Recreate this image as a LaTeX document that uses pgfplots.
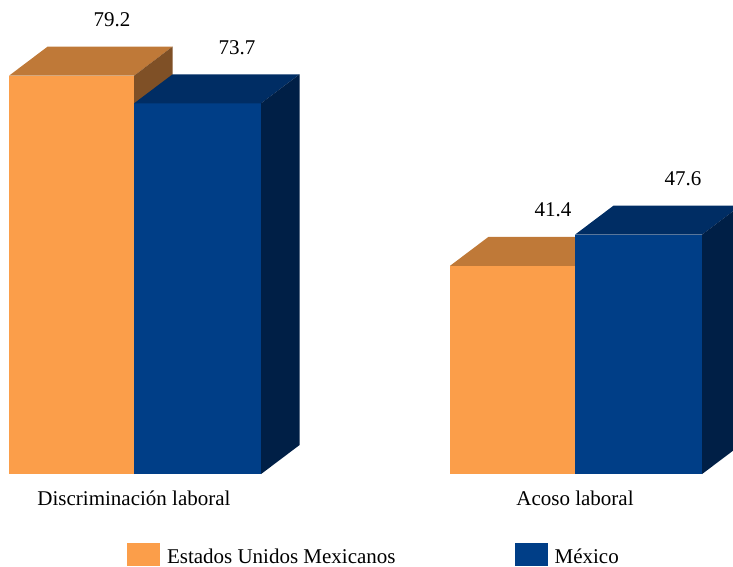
\documentclass[border=0pt]{standalone}
\usepackage{fontspec}
\setmainfont{Liberation Serif}
\usepackage{pgfplots}
\pgfplotsset{compat=1.18}

\definecolor{oFront}{RGB}{251,158,74}
\definecolor{oTop}{RGB}{191,121,56}
\definecolor{oSide}{RGB}{127,80,38}
\definecolor{bFront}{RGB}{0,62,135}
\definecolor{bTop}{RGB}{0,45,100}
\definecolor{bSide}{RGB}{0,31,70}

\newcommand{\lblfont}{\fontsize{21}{25}\selectfont}

\begin{document}
\begin{tikzpicture}
\begin{axis}[
    width=733pt, height=474pt, scale only axis,
    xmin=0, xmax=733, ymin=0, ymax=94.235,
    axis line style={draw=none},
    ytick=\empty,
    xtick={134,575},
    xticklabels={Discriminación laboral, Acoso laboral},
    major tick length=0pt,
    xticklabel style={font=\lblfont, anchor=base, yshift=-31pt, inner sep=0pt},
    legend columns=2,
    legend style={at={(axis description cs:0,0)}, anchor=north west,
        xshift=127pt, yshift=-69pt, draw=none, fill=none,
        inner sep=0pt, outer sep=0pt, font=\lblfont,
        cells={anchor=base west}, nodes={inner sep=0pt, text depth=0pt},
        column sep=0pt,
        /tikz/every odd column/.append style={column sep=7pt},
        /tikz/every even column/.append style={column sep=119pt}},
    legend image code/.code={\fill[#1] (0pt,-3pt) rectangle (33pt,20pt);},
]
% Discriminacion laboral: Estados Unidos Mexicanos 79.2
\addplot[fill=oFront, draw=none, forget plot] coordinates {(9,0) (134,0) (134,79.2) (9,79.2)} -- cycle;
\addplot[fill=oTop, draw=none, forget plot] coordinates {(9,79.2) (134,79.2) (172.5,84.97) (47.5,84.97)} -- cycle;
\addplot[fill=oSide, draw=none, forget plot] coordinates {(134,0) (172.5,5.77) (172.5,84.97) (134,79.2)} -- cycle;
% Discriminacion laboral: Mexico 73.7
\addplot[fill=bFront, draw=none, forget plot] coordinates {(134,0) (261,0) (261,73.7) (134,73.7)} -- cycle;
\addplot[fill=bTop, draw=none, forget plot] coordinates {(134,73.7) (261,73.7) (299.5,79.47) (172.5,79.47)} -- cycle;
\addplot[fill=bSide, draw=none, forget plot] coordinates {(261,0) (299.5,5.77) (299.5,79.47) (261,73.7)} -- cycle;
% Acoso laboral: Estados Unidos Mexicanos 41.4
\addplot[fill=oFront, draw=none, forget plot] coordinates {(450,0) (575,0) (575,41.4) (450,41.4)} -- cycle;
\addplot[fill=oTop, draw=none, forget plot] coordinates {(450,41.4) (575,41.4) (613.5,47.17) (488.5,47.17)} -- cycle;
\addplot[fill=oSide, draw=none, forget plot] coordinates {(575,0) (613.5,5.77) (613.5,47.17) (575,41.4)} -- cycle;
% Acoso laboral: Mexico 47.6
\addplot[fill=bFront, draw=none, forget plot] coordinates {(575,0) (702,0) (702,47.6) (575,47.6)} -- cycle;
\addplot[fill=bTop, draw=none, forget plot] coordinates {(575,47.6) (702,47.6) (740.5,53.37) (613.5,53.37)} -- cycle;
\addplot[fill=bSide, draw=none, forget plot] coordinates {(702,0) (740.5,5.77) (740.5,53.37) (702,47.6)} -- cycle;
% value labels
\addplot[draw=none, mark=none, forget plot, nodes near coords, point meta=explicit symbolic,
    every node near coord/.append style={font=\lblfont, anchor=base, inner sep=0pt, yshift=20pt}]
    coordinates {(112,84.97) [79.2] (237,79.47) [73.7] (553,47.17) [41.4] (683,53.37) [47.6]};
\addlegendimage{fill=oFront, draw=none}
\addlegendentry{Estados Unidos Mexicanos}
\addlegendimage{fill=bFront, draw=none}
\addlegendentry{México}
\end{axis}
\end{tikzpicture}
\end{document}
